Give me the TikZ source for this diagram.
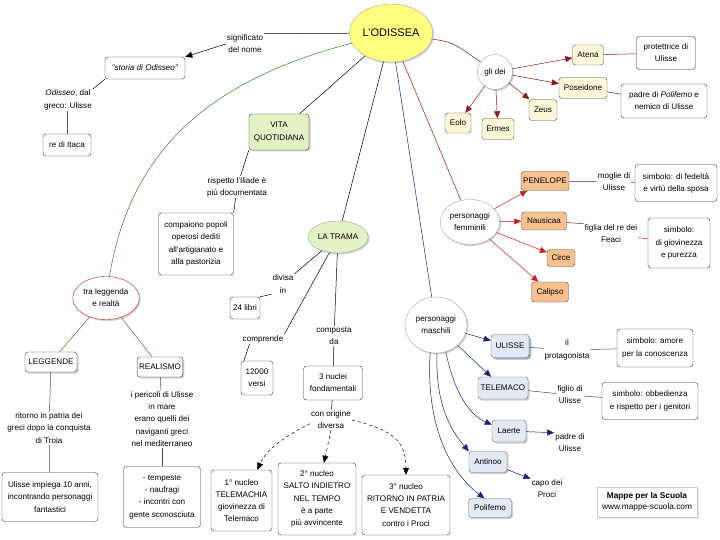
\documentclass[tikz,border=0pt]{standalone}
\usepackage{fontspec}
\setmainfont{Liberation Sans}
\usetikzlibrary{arrows.meta,shapes.geometric,shadows}
\definecolor{odyel}{HTML}{FFFF80}
\definecolor{lgreen}{HTML}{E2F2C4}
\definecolor{cream}{HTML}{FFF8D8}
\definecolor{orng}{HTML}{F9C18F}
\definecolor{lblue}{HTML}{E2EAF6}
\definecolor{dgreen}{HTML}{3A7A3A}
\definecolor{dred}{HTML}{8B1A1A}
\definecolor{rred}{HTML}{C82020}
\definecolor{navy}{HTML}{1A237E}
\definecolor{teal}{HTML}{2F6F7F}
\tikzset{
  every node/.style={font=\fontsize{8.1}{12.2}\selectfont, align=center},
  box/.style={draw=black!80, rounded corners=3pt, inner sep=2pt, fill=white},
  lbl/.style={inner sep=1pt},
  shad/.style={drop shadow={shadow xshift=1.5pt, shadow yshift=-1.5pt, fill=gray!45, opacity=0.8}},
  ell/.style={ellipse, draw=gray!70, inner sep=1pt, shad},
  ln/.style={draw=black, line width=0.5pt},
  arr/.style={-{Triangle[length=7pt,width=6pt]}},
  gbox/.style={box, fill=cream, draw=black!70},
  fbox/.style={box, fill=orng, draw=black!70},
  mbox/.style={box, fill=lblue, draw=black!60, shad},
  lbox/.style={box, draw=dgreen!60!black, fill=white, shad}
}
\begin{document}
\begin{tikzpicture}[x=1pt,y=-1pt]
\fill[white] (0,0) rectangle (720,540);
\useasboundingbox (0,0) rectangle (720,540);

% central
\node[ell, fill=odyel, minimum width=72, minimum height=58, font=\fontsize{11}{13}\selectfont] (odi) at (391,33) {L'ODISSEA};

% name
\node[lbl] (sig) at (245,44) {significato\\del nome};
\node[box, minimum width=80, minimum height=22] (storia) at (145,68) {\textit{"storia di Odisseo"}};
\node[lbl] (odlbl) at (68,100) {\textit{Odisseo}, dal\\greco: Ulisse};
\node[box, minimum width=48, minimum height=22] (itaca) at (67,145) {re di Itaca};
\draw[ln] (odi) -- (sig.north east);
\draw[ln, arr] (sig.west) -- (storia.north east);
\draw[ln] (storia.south west) -- (odlbl.north east);
\draw[ln] (odlbl) -- (itaca);

% vita quotidiana
\node[box, fill=lgreen, minimum width=60, minimum height=36, shad] (vita) at (279,132) {VITA\\QUOTIDIANA};
\node[lbl] (risp) at (237,187) {rispetto l'Iliade è\\più documentata};
\node[box, minimum width=75, minimum height=62] (comp) at (196,244) {compaiono popoli\\operosi dediti\\all'artigianato e\\alla pastorizia};
\draw[ln] (odi) -- (vita);
\draw[ln] (vita.south west) -- (risp);
\draw[ln] (risp) -- (comp.north east);

% la trama
\node[ell, fill=lgreen, minimum width=48, minimum height=32] (trama) at (338,237) {LA TRAMA};
\node[lbl] (divisa) at (283,284) {divisa\\in};
\node[box, minimum width=30, minimum height=22] (libri) at (245,308) {24 libri};
\node[lbl] (compr) at (263,339) {comprende};
\node[box, minimum width=32, minimum height=34] (versi) at (257,378) {12000\\versi};
\node[lbl] (compo) at (334,336) {composta\\da};
\node[box, minimum width=59, minimum height=34] (nuclei) at (333,383) {3 nuclei\\fondamentali};
\node[lbl] (orig) at (331,420) {con origine\\diversa};
\node[box, minimum width=61, minimum height=61] (n1) at (241.5,500.5) {1° nucleo\\TELEMACHIA\\giovinezza di\\Telemaco};
\node[box, minimum width=78, minimum height=72] (n2) at (317,499) {2° nucleo\\SALTO INDIETRO\\NEL TEMPO\\è a parte\\più avvincente};
\node[box, minimum width=88, minimum height=60] (n3) at (406,505) {3° nucleo\\RITORNO IN PATRIA\\E VENDETTA\\contro i Proci};
\draw[ln] (odi) -- (trama);
\draw[ln] (trama) -- (divisa.north east);
\draw[ln] (divisa.south west) -- (libri.north east);
\draw[ln] (trama) -- (compr.north east);
\draw[ln] ([xshift=8pt]compr.south west) -- ([xshift=3pt]versi.north west);
\draw[ln] (trama) -- (compo);
\draw[ln] (compo) -- (nuclei);
\draw[ln] (nuclei) -- (orig);
\draw[ln, dashed, arr] (orig.190) .. controls (285,436) and (266,450) .. ([xshift=16pt]n1.north);
\draw[ln, dashed, arr] (orig.south) -- ([xshift=7pt]n2.north);
\draw[ln, dashed, arr] (orig.east) .. controls (392,430) and (406,440) .. (n3.north);

% tra leggenda e realta
\node[ell, draw=rred, fill=white, minimum width=58, minimum height=43] (tra) at (106,298) {tra leggenda\\e realtà};
\node[lbox, minimum width=52, minimum height=20] (leg) at (51,362) {LEGGENDE};
\node[lbox, minimum width=44, minimum height=20] (real) at (160,367) {REALISMO};
\node[lbl] (rit) at (49,428) {ritorno in patria dei\\greci dopo la conquista\\di Troia};
\node[box, draw=dgreen!60!black, minimum width=96, minimum height=49] (uli10) at (50,497) {Ulisse impiega 10 anni,\\incontrando personaggi\\fantastici};
\node[lbl] (peri) at (162,419) {i pericoli di Ulisse\\in mare\\erano quelli dei\\naviganti greci\\nel mediterraneo};
\node[box, draw=dgreen!60!black, minimum width=77, minimum height=61] (temp) at (162,497) {- tempeste\\- naufragi\\- incontri con\\gente sconosciuta};
\draw[ln, draw=dgreen] (odi) .. controls (210,80) and (130,150) .. (tra);
\draw[ln, draw=dgreen] (tra) -- (leg);
\draw[ln, draw=dgreen] (tra) -- (real);
\draw[ln, draw=black!70] (leg) -- (rit);
\draw[ln, draw=black!70] (rit) -- (uli10);
\draw[ln, draw=black!70] (real) -- (peri);
\draw[ln, draw=black!70] (peri) -- (temp);

% gli dei
\node[circle, draw=gray!70, fill=white, minimum size=35, inner sep=0pt, shad] (dei) at (495,72) {gli dei};
\node[gbox, minimum width=31, minimum height=20] (atena) at (588,55) {Atena};
\node[gbox, minimum width=48, minimum height=21] (posei) at (583,88) {Poseidone};
\node[gbox, minimum width=28, minimum height=21] (zeus) at (543,110) {Zeus};
\node[gbox, minimum width=32, minimum height=21] (ermes) at (498,129) {Ermes};
\node[gbox, minimum width=26, minimum height=20] (eolo) at (458,123) {Eolo};
\node[box, minimum width=59, minimum height=33] (prot) at (666,53) {protettrice di\\Ulisse};
\node[box, minimum width=86, minimum height=34] (padre) at (664,101) {padre di \textit{Polifemo} e\\nemico di Ulisse};
\draw[ln, draw=dred] (odi) .. controls (452,42) .. (dei);
\draw[ln, draw=dred, arr] (dei) -- (atena);
\draw[ln, draw=dred, arr] (dei) -- (posei);
\draw[ln, draw=dred, arr] (dei) -- (zeus);
\draw[ln, draw=dred, arr] (dei) -- (ermes);
\draw[ln, draw=dred, arr] (dei) -- (eolo);
\draw[ln, draw=dred] (atena) -- (prot);
\draw[ln, draw=dred] (posei) -- (padre);

% personaggi femminili
\node[ell, fill=white, minimum width=56, minimum height=45] (fem) at (470,222) {personaggi\\femminili};
\node[fbox, minimum width=48, minimum height=19] (pen) at (545,181) {PENELOPE};
\node[fbox, minimum width=45, minimum height=18] (nau) at (544,221) {Nausicaa};
\node[fbox, minimum width=28, minimum height=17] (circe) at (561,258) {Circe};
\node[fbox, minimum width=37, minimum height=20] (calip) at (550,292) {Calipso};
\node[lbl] (mog) at (614,182) {moglie di\\Ulisse};
\node[box, minimum width=82, minimum height=37] (simf) at (676,183) {simbolo: di fedeltà\\e virtù della sposa};
\node[lbl] (fig) at (611,234) {figlia del re dei\\Feaci};
\node[box, minimum width=62, minimum height=50] (simg) at (679,243) {simbolo:\\di giovinezza\\e purezza};
\draw[ln, draw=rred!80!black] (odi) -- (fem);
\draw[ln, draw=rred, arr] (fem) -- (pen);
\draw[ln, draw=rred, arr] (fem) -- (nau);
\draw[ln, draw=rred, arr] (fem) -- (circe);
\draw[ln, draw=rred, arr] (fem) -- (calip);
\draw[ln, draw=dred] (pen) -- (mog);
\draw[ln, draw=rred] (mog) -- (simf);
\draw[ln, draw=dred] (nau) -- (fig.north west);
\draw[ln, draw=rred] (fig) -- (simg);

% personaggi maschili
\node[ell, fill=white, minimum width=62, minimum height=56] (mas) at (436,325) {personaggi\\maschili};
\node[box, fill=lblue, draw=black!60, minimum width=38, minimum height=23, drop shadow={shadow xshift=2pt, shadow yshift=-2pt, fill=teal}] (ulisse) at (510,346) {ULISSE};
\node[mbox, minimum width=50, minimum height=22] (tele) at (503,388) {TELEMACO};
\node[mbox, minimum width=34, minimum height=22] (laerte) at (509,431) {Laerte};
\node[mbox, minimum width=38, minimum height=21] (antinoo) at (488,462) {Antinoo};
\node[mbox, minimum width=43, minimum height=19] (polif) at (490,508) {Polifemo};
\node[lbl] (prota) at (567,350) {il\\protagonista};
\node[box, minimum width=76, minimum height=38] (simu) at (655,348) {simbolo: amore\\per la conoscenza};
\node[lbl] (figl) at (570,395) {figlio di\\Ulisse};
\node[box, minimum width=96, minimum height=37] (simt) at (650,401) {simbolo: obbedienza\\e rispetto per i genitori};
\node[lbl] (padu) at (570,443) {padre di\\Ulisse};
\node[lbl] (capo) at (547,489) {capo dei\\Proci};
\draw[ln, draw=navy] (odi) -- (mas);
\draw[ln, draw=navy, arr] (mas) -- (ulisse);
\draw[ln, draw=navy, arr] (mas) -- (tele);
\draw[ln, draw=navy, arr] (mas.290) .. controls (455,395) and (470,415) .. (laerte.160);
\draw[ln, draw=navy, arr] (mas.272) .. controls (435,410) and (455,435) .. (antinoo.north west);
\draw[ln, draw=navy, arr] (mas.258) .. controls (425,440) and (460,480) .. (polif.120);
\draw[ln, draw=black!70] (ulisse) -- (prota);
\draw[ln, draw=black!70] (prota) -- (simu);
\draw[ln, draw=black!70] (tele) -- (figl);
\draw[ln, draw=black!70] (figl) -- (simt);
\draw[ln, draw=navy, arr] (laerte) -- (padu.north west);
\draw[ln, draw=navy, arr] (antinoo) -- (capo.north west);

% logo
\node[draw=gray!40, fill=white, inner sep=3pt, minimum width=100, minimum height=30, drop shadow={shadow xshift=2pt, shadow yshift=-2pt, fill=gray!40}, font=\fontsize{8.3}{10.5}\selectfont] (mappe) at (647,502) {\textbf{Mappe per la Scuola}\\www.mappe-scuola.com};
\end{tikzpicture}
\end{document}
